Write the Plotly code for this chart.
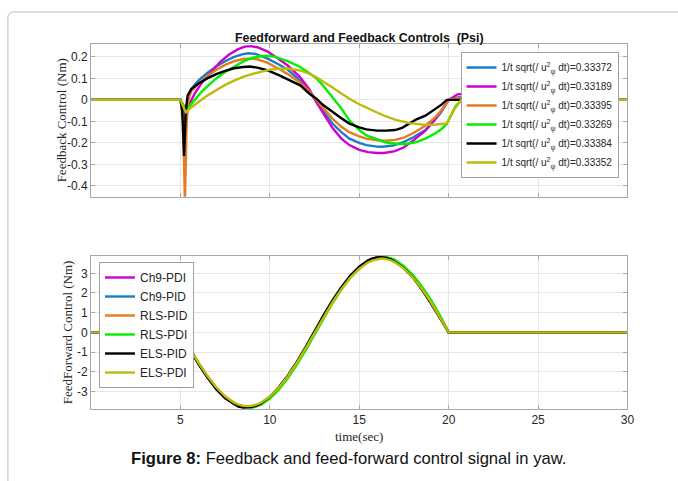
import plotly.graph_objects as go

# ---------------- Feedback control (top panel) ----------------
FB_NAMES = [
    "1/t sqrt(/ u<sup>2</sup><sub>ψ</sub> dt)=0.33372",
    "1/t sqrt(/ u<sup>2</sup><sub>ψ</sub> dt)=0.33189",
    "1/t sqrt(/ u<sup>2</sup><sub>ψ</sub> dt)=0.33395",
    "1/t sqrt(/ u<sup>2</sup><sub>ψ</sub> dt)=0.33269",
    "1/t sqrt(/ u<sup>2</sup><sub>ψ</sub> dt)=0.33384",
    "1/t sqrt(/ u<sup>2</sup><sub>ψ</sub> dt)=0.33352",
]

fb_blue_t = [0, 5.0, 5.1, 5.2, 5.3, 5.45, 5.7, 6.0, 6.5, 7.0, 7.5, 8.0, 8.5, 8.8, 9.2, 9.85, 10.5, 11.0, 11.7, 12.2, 12.6, 13.0, 13.5, 14.0, 14.45, 15.0, 15.4, 16.0, 16.3, 16.9, 17.5, 18.0, 18.7, 19.2, 19.6, 20.0, 20.5, 21.0, 21.5, 22.5, 30]
fb_blue_v = [0, 0, -0.03, -0.10, -0.05, 0.02, 0.06, 0.09, 0.125, 0.155, 0.18, 0.20, 0.213, 0.217, 0.214, 0.193, 0.165, 0.14, 0.09, 0.04, -0.008, -0.055, -0.11, -0.15, -0.18, -0.20, -0.21, -0.217, -0.218, -0.212, -0.195, -0.175, -0.14, -0.095, -0.055, 0.0, 0.012, 0.015, 0.01, 0.0, 0.0]

fb_mag_t = [0, 5.0, 5.2, 5.3, 5.5, 5.8, 6.2, 6.7, 7.2, 7.7, 8.2, 8.6, 8.9, 9.3, 9.85, 10.5, 11.0, 11.7, 12.2, 12.6, 13.0, 13.5, 14.0, 14.45, 15.0, 15.5, 16.0, 16.4, 17.0, 17.5, 18.0, 18.7, 19.2, 19.6, 20.0, 20.5, 21.0, 21.5, 22.0, 23.0, 24.0, 30]
fb_mag_v = [0, 0, -0.03, -0.06, -0.02, 0.03, 0.08, 0.13, 0.175, 0.21, 0.235, 0.248, 0.25, 0.245, 0.226, 0.19, 0.16, 0.105, 0.05, -0.01, -0.065, -0.13, -0.18, -0.21, -0.232, -0.243, -0.247, -0.247, -0.238, -0.22, -0.19, -0.143, -0.095, -0.05, 0.0, 0.026, 0.03, 0.027, 0.02, 0.005, 0.0, 0.0]

fb_org_t = [0, 5.0, 5.15, 5.25, 5.35, 5.45, 5.6, 6.0, 6.5, 7.0, 7.5, 8.0, 8.5, 8.9, 9.3, 9.85, 10.5, 11.0, 11.7, 12.2, 12.6, 13.0, 13.5, 14.0, 14.45, 15.0, 15.4, 16.0, 16.5, 17.0, 17.5, 18.0, 18.7, 19.2, 19.6, 20.0, 20.5, 21.0, 22.0, 23.0, 30]
fb_org_v = [0, 0, -0.10, -0.47, -0.10, 0.0, 0.04, 0.075, 0.11, 0.14, 0.163, 0.18, 0.19, 0.192, 0.189, 0.173, 0.145, 0.12, 0.08, 0.04, 0.0, -0.04, -0.087, -0.125, -0.15, -0.17, -0.18, -0.188, -0.19, -0.186, -0.175, -0.155, -0.12, -0.085, -0.05, 0.0, 0.008, 0.01, 0.005, 0.0, 0.0]

fb_grn_t = [0, 5.0, 5.2, 5.3, 5.5, 5.8, 6.2, 6.6, 7.0, 7.5, 8.0, 8.5, 9.0, 9.5, 9.85, 10.3, 11.0, 11.7, 12.2, 12.6, 13.0, 13.5, 14.0, 14.45, 15.0, 15.4, 16.0, 16.5, 17.2, 17.6, 18.15, 18.7, 19.26, 19.6, 19.9, 20.1, 20.4, 20.9, 21.5, 22.6, 23.5, 24.5, 30]
fb_grn_v = [0, 0, -0.03, -0.05, -0.03, 0.0, 0.04, 0.07, 0.10, 0.13, 0.155, 0.178, 0.195, 0.203, 0.205, 0.20, 0.18, 0.153, 0.125, 0.10, 0.065, 0.014, -0.04, -0.095, -0.14, -0.165, -0.185, -0.198, -0.205, -0.205, -0.197, -0.18, -0.155, -0.135, -0.112, -0.08, -0.027, 0.012, 0.024, 0.02, 0.008, 0.0, 0.0]

fb_blk_t = [0, 5.0, 5.1, 5.2, 5.3, 5.4, 5.6, 6.0, 6.5, 7.0, 7.5, 8.0, 8.5, 8.9, 9.3, 9.85, 10.5, 11.0, 11.7, 12.2, 12.6, 13.0, 13.5, 14.0, 14.45, 15.0, 15.4, 16.0, 16.5, 17.0, 17.4, 17.8, 18.2, 18.7, 19.2, 19.6, 19.9, 30]
fb_blk_v = [0, 0, -0.05, -0.26, -0.05, 0.02, 0.05, 0.075, 0.10, 0.12, 0.135, 0.147, 0.153, 0.155, 0.15, 0.138, 0.115, 0.095, 0.068, 0.03, 0.006, -0.025, -0.056, -0.085, -0.11, -0.128, -0.137, -0.143, -0.143, -0.14, -0.13, -0.11, -0.09, -0.073, -0.045, -0.022, 0.0, 0.0]

fb_yel_t = [0, 5.0, 5.15, 5.3, 5.6, 6.0, 6.5, 7.0, 7.5, 8.0, 8.5, 9.0, 9.5, 10.0, 10.5, 11.0, 11.7, 12.2, 12.6, 13.0, 13.5, 14.0, 14.45, 15.0, 15.4, 15.9, 16.5, 17.0, 17.8, 18.7, 19.3, 19.9, 20.25, 20.7, 21.0, 21.5, 22.5, 23.5, 24.5, 30]
fb_yel_v = [0, 0, -0.03, -0.057, -0.035, -0.01, 0.02, 0.045, 0.07, 0.09, 0.107, 0.12, 0.132, 0.141, 0.145, 0.146, 0.137, 0.122, 0.105, 0.085, 0.058, 0.03, 0.005, -0.02, -0.037, -0.055, -0.077, -0.092, -0.108, -0.116, -0.114, -0.109, -0.05, 0.0, 0.012, 0.018, 0.012, 0.003, 0.0, 0.0]

# ---------------- Feedforward control (bottom panel) ----------------
FF_NAMES = ["Ch9-PDI", "Ch9-PID", "RLS-PID", "RLS-PDI", "ELS-PID", "ELS-PDI"]
ff_t = [0, 5, 5.5, 6, 6.5, 7, 7.5, 8, 8.25, 8.5, 8.75, 9, 9.25, 9.5, 10, 10.5, 11, 11.5, 12, 12.5, 13, 13.5, 14, 14.5, 15, 15.5, 15.75, 16, 16.25, 16.5, 16.75, 17, 17.5, 18, 18.5, 19, 19.5, 20, 30]
ff_ch9_pdi = [0, 0, -0.80, -1.57, -2.25, -2.85, -3.32, -3.64, -3.75, -3.81, -3.83, -3.81, -3.75, -3.65, -3.32, -2.86, -2.28, -1.60, -0.84, -0.02, 0.78, 1.56, 2.24, 2.84, 3.30, 3.64, 3.75, 3.81, 3.84, 3.81, 3.75, 3.64, 3.31, 2.85, 2.26, 1.58, 0.81, 0, 0]
ff_ch9_pid = [0, 0, -0.79, -1.56, -2.24, -2.84, -3.31, -3.63, -3.74, -3.80, -3.82, -3.80, -3.74, -3.64, -3.31, -2.85, -2.27, -1.59, -0.83, -0.01, 0.78, 1.55, 2.23, 2.83, 3.29, 3.63, 3.74, 3.80, 3.83, 3.80, 3.74, 3.63, 3.30, 2.84, 2.25, 1.57, 0.80, 0, 0]
ff_rls_pid = [0, 0, -0.80, -1.57, -2.25, -2.85, -3.32, -3.64, -3.75, -3.81, -3.83, -3.81, -3.75, -3.65, -3.32, -2.86, -2.28, -1.60, -0.84, -0.02, 0.78, 1.56, 2.24, 2.84, 3.30, 3.64, 3.75, 3.81, 3.83, 3.81, 3.75, 3.64, 3.31, 2.85, 2.26, 1.58, 0.81, 0, 0]
ff_rls_pdi = [0, 0, -0.78, -1.54, -2.22, -2.82, -3.30, -3.63, -3.74, -3.80, -3.83, -3.83, -3.77, -3.68, -3.36, -2.91, -2.34, -1.67, -0.91, -0.10, 0.70, 1.48, 2.17, 2.78, 3.25, 3.61, 3.73, 3.80, 3.83, 3.82, 3.77, 3.67, 3.36, 2.91, 2.33, 1.66, 0.89, 0, 0]
ff_els_pid = [0, 0, -0.82, -1.60, -2.29, -2.89, -3.35, -3.66, -3.77, -3.82, -3.82, -3.79, -3.72, -3.61, -3.27, -2.79, -2.20, -1.51, -0.75, 0.07, 0.86, 1.63, 2.30, 2.89, 3.34, 3.66, 3.76, 3.81, 3.82, 3.78, 3.71, 3.59, 3.25, 2.78, 2.17, 1.49, 0.72, 0, 0]
ff_els_pdi = [0, 0, -0.78, -1.54, -2.21, -2.79, -3.25, -3.57, -3.67, -3.73, -3.75, -3.73, -3.67, -3.58, -3.26, -2.81, -2.24, -1.57, -0.82, -0.02, 0.76, 1.52, 2.19, 2.78, 3.23, 3.56, 3.66, 3.72, 3.75, 3.72, 3.66, 3.56, 3.24, 2.79, 2.21, 1.55, 0.79, 0, 0]

COLORS = {"blue": "#1C7CC6", "mag": "#D000D0", "org": "#E47A22", "grn": "#00F000",
          "blk": "#000000", "yel": "#BDBA0A"}

TOP_Y_TICKS = [0.2, 0.1, 0, -0.1, -0.2, -0.3, -0.4]
TOP_Y_TEXT = ["0.2", "0.1", "0", "-0.1", "-0.2", "-0.3", "-0.4"]
BOT_Y_TICKS = [3, 2, 1, 0, -1, -2, -3]
BOT_Y_TEXT = ["3", "2", "1", "0", "-1", "-2", "-3"]
X_TICKS = [5, 10, 15, 20, 25, 30]
X_TEXT = ["5", "10", "15", "20", "25", "30"]

W, H = 678, 481
def px(x):
    return x / W
def py(y):
    return 1 - y / H

fig = go.Figure()

top_series = [
    (fb_blue_t, fb_blue_v, COLORS["blue"], FB_NAMES[0]),
    (fb_mag_t, fb_mag_v, COLORS["mag"], FB_NAMES[1]),
    (fb_org_t, fb_org_v, COLORS["org"], FB_NAMES[2]),
    (fb_grn_t, fb_grn_v, COLORS["grn"], FB_NAMES[3]),
    (fb_blk_t, fb_blk_v, COLORS["blk"], FB_NAMES[4]),
    (fb_yel_t, fb_yel_v, COLORS["yel"], FB_NAMES[5]),
]
for t, v, c, n in top_series:
    fig.add_trace(go.Scatter(x=t, y=v, mode="lines", name=n, line=dict(color=c, width=2.4),
                             xaxis="x", yaxis="y", legend="legend"))

bot_series = [
    (ff_ch9_pdi, COLORS["mag"], FF_NAMES[0]),
    (ff_ch9_pid, COLORS["blue"], FF_NAMES[1]),
    (ff_rls_pid, COLORS["org"], FF_NAMES[2]),
    (ff_rls_pdi, COLORS["grn"], FF_NAMES[3]),
    (ff_els_pid, COLORS["blk"], FF_NAMES[4]),
    (ff_els_pdi, COLORS["yel"], FF_NAMES[5]),
]
for v, c, n in bot_series:
    fig.add_trace(go.Scatter(x=ff_t, y=v, mode="lines", name=n, line=dict(color=c, width=2.4),
                             xaxis="x2", yaxis="y2", legend="legend2"))

axis_common = dict(showline=True, linecolor="#A8A8A8", linewidth=1, mirror="ticks",
                   ticks="inside", ticklen=4, tickcolor="#A8A8A8",
                   showgrid=True, gridcolor="#E6E6E6", gridwidth=1, zeroline=False,
                   tickfont=dict(family="Liberation Sans, Arial", size=12, color="#262626"))

fig.update_layout(
    width=W, height=H,
    margin=dict(l=0, r=0, t=0, b=0),
    paper_bgcolor="white", plot_bgcolor="white",
    xaxis=dict(domain=[px(92), px(634)], range=[0, 30], tickvals=X_TICKS, ticktext=X_TEXT,
               showticklabels=False, anchor="y", **axis_common),
    yaxis=dict(domain=[py(196.7), py(44)], range=[-0.45, 0.26], tickvals=TOP_Y_TICKS,
               ticktext=TOP_Y_TEXT, anchor="x", **axis_common),
    xaxis2=dict(domain=[px(92), px(634)], range=[0, 30], tickvals=X_TICKS, ticktext=X_TEXT,
                anchor="y2", **axis_common),
    yaxis2=dict(domain=[py(408.7), py(256)], range=[-3.88, 3.88], tickvals=BOT_Y_TICKS,
                ticktext=BOT_Y_TEXT, anchor="x2", **axis_common),
    legend=dict(x=px(625), y=py(52), xanchor="right", yanchor="top", bgcolor="white",
                bordercolor="#A0A0A0", borderwidth=1, itemwidth=30,
                font=dict(family="Liberation Sans, Arial", size=10, color="#262626")),
    legend2=dict(x=px(100), y=py(262), xanchor="left", yanchor="top", bgcolor="white",
                 bordercolor="#A0A0A0", borderwidth=1, itemwidth=30,
                 font=dict(family="Liberation Sans, Arial", size=12, color="#262626")),
    showlegend=True,
)

# card border (open to the right and bottom)
fig.add_shape(type="path", xref="paper", yref="paper",
              path=f"M {px(8)},{py(495)} L {px(8)},{py(18)} Q {px(8)},{py(12)} {px(14)},{py(12)} L {px(700)},{py(12)}",
              line=dict(color="#BDBDBD", width=1))

fig.add_annotation(text="<b>Feedforward and Feedback Controls  (Psi)</b>", xref="paper", yref="paper",
                   x=px(363), y=py(38), xanchor="center", yanchor="middle", showarrow=False,
                   font=dict(family="Liberation Sans, Arial", size=12.4, color="#111111"))
fig.add_annotation(text="Feedback Control (Nm)", xref="paper", yref="paper", textangle=-90,
                   x=px(62), y=py(120), xanchor="center", yanchor="middle", showarrow=False,
                   font=dict(family="Liberation Serif, Times New Roman", size=13, color="#262626"))
fig.add_annotation(text="FeedForward Control (Nm)", xref="paper", yref="paper", textangle=-90,
                   x=px(68), y=py(332), xanchor="center", yanchor="middle", showarrow=False,
                   font=dict(family="Liberation Serif, Times New Roman", size=13, color="#262626"))
fig.add_annotation(text="time(sec)", xref="paper", yref="paper",
                   x=px(363), y=py(436), xanchor="center", yanchor="middle", showarrow=False,
                   font=dict(family="Liberation Serif, Times New Roman", size=13, color="#262626"))
fig.add_annotation(text="<b>Figure 8:</b> Feedback and feed-forward control signal in yaw.", xref="paper", yref="paper",
                   x=px(352), y=py(458), xanchor="center", yanchor="middle", showarrow=False,
                   font=dict(family="Liberation Sans, Arial", size=16.6, color="#111111"))

fig.write_html("out.html")
